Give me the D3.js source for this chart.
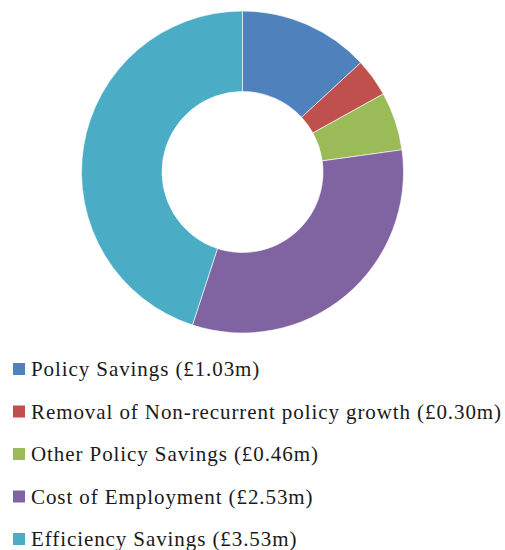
<!DOCTYPE html>
<html>
<head>
<meta charset="utf-8">
<script src="https://cdn.jsdelivr.net/npm/d3@7"></script>
<style>
  html, body { margin: 0; padding: 0; background: #fff; }
  svg { display: block; }
</style>
</head>
<body>
<svg id="chart" width="505" height="550"></svg>
<script>
// Savings breakdown, £m
const categories = [
  "Policy Savings",
  "Removal of Non-recurrent policy growth",
  "Other Policy Savings",
  "Cost of Employment",
  "Efficiency Savings"
];
const values = [1.03, 0.30, 0.46, 2.53, 3.53];
const colors = ["#4F81BD", "#C0504D", "#9BBB59", "#8064A2", "#4BACC6"];

const svg = d3.select("#chart");

const cx = 242.5, cy = 172, outerR = 161, innerR = 80.5;

const pie = d3.pie().sort(null).value(d => d.value);
const arc = d3.arc().innerRadius(innerR).outerRadius(outerR);

const data = categories.map((c, i) => ({ name: c, value: values[i], color: colors[i] }));

svg.append("g")
  .attr("transform", `translate(${cx},${cy})`)
  .selectAll("path")
  .data(pie(data))
  .join("path")
  .attr("d", arc)
  .attr("fill", d => d.data.color)
  .attr("stroke", "#fff")
  .attr("stroke-width", 0.6);

// Legend
const legendY = d3.scalePoint().domain(categories).range([376, 546]);
const legend = svg.append("g")
  .selectAll("g")
  .data(data)
  .join("g")
  .attr("transform", d => `translate(0,${legendY(d.name)})`);

legend.append("rect")
  .attr("x", 13)
  .attr("y", -13)
  .attr("width", 12)
  .attr("height", 12)
  .attr("fill", d => d.color);

const labels = legend.append("text")
  .attr("x", 31)
  .attr("y", 0)
  .attr("font-family", "'Liberation Serif', 'DejaVu Serif', serif")
  .attr("font-size", 21)
  .attr("fill", "#1a1a1a")
  .text(d => `${d.name} (£${d.value.toFixed(2)}m)`);

// Widen the tracking so the longest entry spans the legend width
const nodes = labels.nodes();
const longest = nodes.reduce((a, b) => (b.getComputedTextLength() > a.getComputedTextLength() ? b : a));
const spacing = (471 - longest.getComputedTextLength()) / longest.textContent.length;
labels.attr("letter-spacing", spacing);
</script>
</body>
</html>
